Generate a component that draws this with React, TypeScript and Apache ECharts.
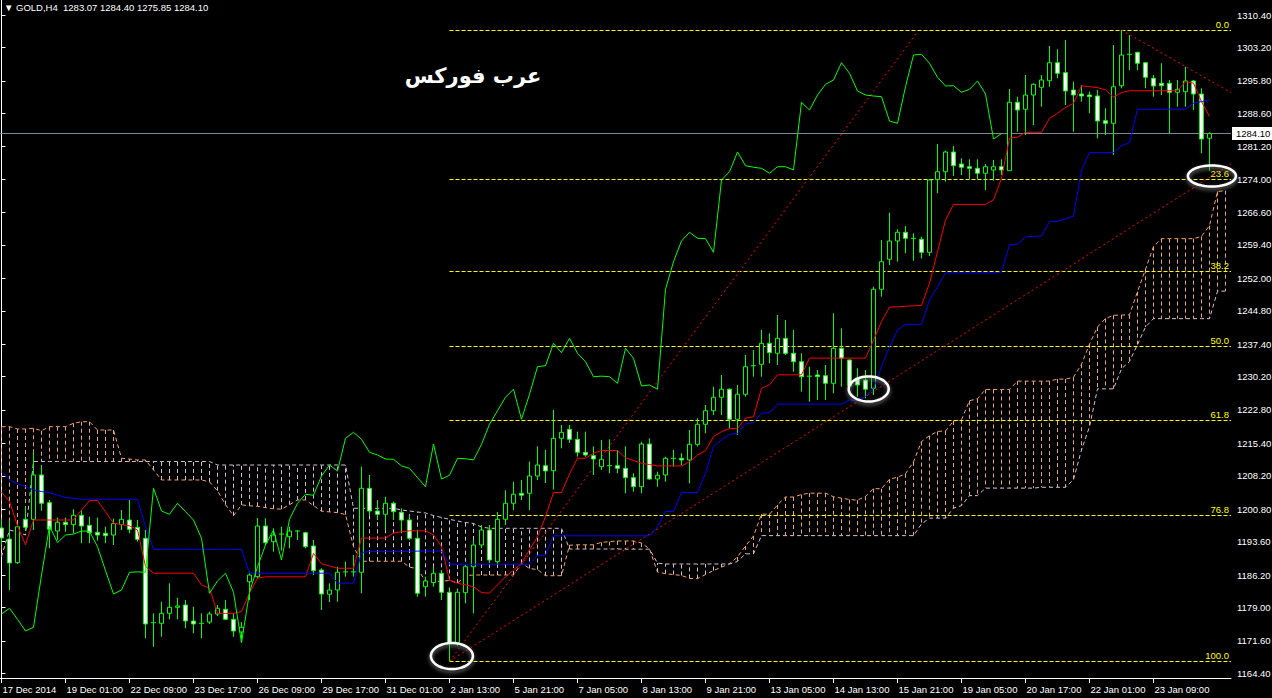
import React, { useEffect, useRef } from "react";
import * as echarts from "echarts";

// ---------- DATA ----------
const opens = [
  1196.63, 1194.19, 1188.94, 1198.56, 1198.56, 1208.39, 1202.24, 1195.96, 1197.89, 1197.38,
  1199.45, 1197.23, 1195.67, 1195.45, 1195.07, 1197.38, 1198.40, 1196.79, 1194.35, 1175.49,
  1175.49, 1177.70, 1179.04, 1179.55, 1176.00, 1175.34, 1175.77, 1177.55, 1178.60, 1176.38,
  1173.57, 1184.71, 1185.83, 1197.07, 1193.59, 1195.07, 1194.70, 1195.96, 1195.58, 1192.64,
  1187.31, 1181.93, 1182.88, 1186.81, 1186.90, 1186.81, 1205.43, 1200.40, 1199.67, 1202.11,
  1200.11, 1198.40, 1194.35, 1183.62, 1184.52, 1186.58, 1182.37, 1171.19, 1182.28, 1188.05,
  1192.86, 1196.18, 1189.16, 1198.56, 1202.11, 1204.33, 1204.33, 1208.16, 1210.45, 1209.35,
  1216.52, 1218.52, 1216.30, 1213.42, 1212.67, 1210.23, 1210.45, 1210.45, 1209.87, 1207.79,
  1205.79, 1215.25, 1207.50, 1208.39, 1212.08, 1212.08, 1211.71, 1215.19, 1219.63, 1222.64,
  1225.62, 1227.40, 1220.74, 1226.29, 1232.40, 1232.93, 1237.59, 1235.37, 1238.70, 1235.37,
  1233.51, 1230.19, 1230.57, 1230.41, 1228.72, 1236.48, 1233.89, 1229.90, 1229.45, 1227.62,
  1249.57, 1256.22, 1260.28, 1262.21, 1260.88, 1260.66, 1257.77, 1273.96, 1275.65, 1280.02,
  1277.36, 1276.76, 1276.40, 1275.30, 1276.03, 1276.76, 1275.87, 1291.04, 1289.49, 1292.66,
  1294.37, 1295.83, 1299.82, 1297.61, 1293.77, 1292.88, 1292.66, 1292.44, 1286.96, 1286.38,
  1294.72, 1301.53, 1302.13, 1299.82, 1296.37, 1295.26, 1295.26, 1293.26, 1293.39, 1295.77,
  1292.88, 1283.07,
];
const highs = [
  1198.40, 1198.40, 1197.52, 1201.35, 1213.55, 1210.60, 1202.84, 1198.93, 1198.93, 1200.78,
  1200.62, 1199.14, 1198.93, 1196.92, 1198.71, 1200.62, 1202.84, 1198.40, 1196.18, 1177.70,
  1180.28, 1184.36, 1181.16, 1180.66, 1179.17, 1177.70, 1178.07, 1179.55, 1180.66, 1177.70,
  1175.78, 1186.93, 1198.85, 1198.78, 1196.56, 1196.92, 1196.92, 1196.18, 1195.80, 1193.97,
  1187.69, 1184.36, 1188.05, 1189.16, 1190.64, 1210.23, 1208.39, 1202.84, 1203.57, 1202.47,
  1200.99, 1199.51, 1196.18, 1185.83, 1188.05, 1187.31, 1183.47, 1183.20, 1188.42, 1193.97,
  1197.29, 1197.29, 1200.18, 1204.99, 1206.89, 1207.28, 1211.34, 1214.72, 1213.93, 1222.80,
  1219.48, 1219.48, 1217.99, 1217.99, 1214.72, 1216.15, 1216.30, 1213.93, 1214.72, 1208.77,
  1215.76, 1216.52, 1209.12, 1212.45, 1213.93, 1213.20, 1218.37, 1220.96, 1223.91, 1227.97,
  1230.57, 1227.62, 1228.35, 1235.00, 1236.11, 1240.54, 1239.81, 1243.87, 1242.76, 1240.54,
  1235.37, 1232.40, 1231.67, 1232.78, 1244.24, 1240.92, 1234.00, 1232.05, 1231.67, 1250.15,
  1260.50, 1266.56, 1262.88, 1263.61, 1261.99, 1261.23, 1274.00, 1281.79, 1280.31, 1281.35,
  1278.62, 1278.40, 1278.40, 1277.36, 1278.25, 1278.40, 1293.99, 1292.28, 1297.10, 1295.26,
  1297.10, 1303.53, 1302.80, 1304.86, 1295.61, 1294.88, 1293.40, 1293.77, 1289.71, 1303.75,
  1307.07, 1305.97, 1302.26, 1299.90, 1297.10, 1299.69, 1295.99, 1295.99, 1298.94, 1295.99,
  1294.15, 1284.40,
];
const lows = [
  1192.86, 1182.88, 1188.65, 1196.18, 1196.18, 1200.47, 1192.13, 1193.97, 1195.80, 1195.45,
  1193.24, 1193.24, 1193.82, 1193.24, 1192.86, 1196.18, 1195.45, 1193.59, 1172.17, 1170.30,
  1172.52, 1176.37, 1176.37, 1174.38, 1173.28, 1172.17, 1175.34, 1177.11, 1176.20, 1172.52,
  1171.41, 1180.66, 1185.54, 1192.86, 1191.38, 1191.64, 1192.13, 1193.97, 1192.13, 1186.19,
  1178.43, 1180.21, 1180.28, 1185.83, 1185.83, 1182.15, 1199.51, 1198.40, 1196.18, 1198.40,
  1195.80, 1193.97, 1181.40, 1181.40, 1183.62, 1180.66, 1167.07, 1170.50, 1179.93, 1177.70,
  1192.13, 1188.87, 1188.42, 1197.29, 1200.62, 1202.84, 1200.62, 1207.28, 1206.61, 1205.17,
  1214.31, 1215.48, 1212.45, 1212.45, 1208.39, 1209.50, 1208.77, 1208.77, 1204.33, 1204.69,
  1204.33, 1207.28, 1205.79, 1206.89, 1210.23, 1210.60, 1206.54, 1214.72, 1217.63, 1221.69,
  1221.69, 1218.74, 1217.26, 1225.75, 1230.19, 1230.19, 1233.16, 1232.78, 1235.00, 1231.29,
  1226.86, 1224.64, 1225.02, 1225.02, 1226.51, 1227.97, 1227.23, 1225.75, 1225.40, 1226.13,
  1247.93, 1254.96, 1255.69, 1257.55, 1255.91, 1256.44, 1256.96, 1270.86, 1273.43, 1274.70,
  1274.92, 1273.97, 1273.97, 1271.59, 1273.65, 1274.92, 1275.80, 1284.52, 1283.79, 1286.01,
  1290.07, 1294.50, 1296.37, 1290.44, 1284.52, 1291.17, 1288.60, 1283.06, 1283.79, 1279.35,
  1294.15, 1298.20, 1298.20, 1294.15, 1292.28, 1292.66, 1284.17, 1290.07, 1290.07, 1289.33,
  1279.73, 1275.85,
];
const closes = [
  1194.41, 1188.87, 1196.92, 1196.79, 1208.39, 1202.11, 1196.34, 1197.89, 1197.38, 1199.45,
  1197.07, 1195.58, 1195.07, 1194.92, 1197.60, 1198.56, 1196.34, 1194.12, 1175.34, 1175.62,
  1177.70, 1179.04, 1179.33, 1176.00, 1175.34, 1175.49, 1177.55, 1178.82, 1176.38, 1173.79,
  1174.61, 1186.19, 1197.07, 1193.38, 1195.07, 1195.29, 1195.96, 1195.90, 1192.49, 1187.16,
  1181.99, 1182.88, 1186.81, 1186.90, 1186.81, 1205.43, 1200.40, 1199.67, 1202.11, 1200.25,
  1198.40, 1194.35, 1182.15, 1184.88, 1186.58, 1182.37, 1171.19, 1182.37, 1188.05, 1192.86,
  1196.18, 1189.53, 1198.56, 1202.11, 1204.11, 1203.89, 1208.16, 1210.60, 1209.27, 1216.52,
  1217.85, 1216.30, 1213.42, 1212.82, 1211.93, 1211.86, 1210.40, 1209.87, 1207.79, 1205.79,
  1215.25, 1207.50, 1208.32, 1212.08, 1212.00, 1211.71, 1215.19, 1219.63, 1222.64, 1225.62,
  1227.40, 1220.74, 1226.29, 1232.40, 1232.62, 1237.59, 1235.51, 1238.70, 1235.37, 1233.51,
  1230.19, 1230.30, 1230.19, 1228.72, 1236.48, 1234.26, 1228.12, 1228.35, 1227.40, 1249.57,
  1255.69, 1260.28, 1262.21, 1260.88, 1260.80, 1257.77, 1273.81, 1275.65, 1280.02, 1276.98,
  1276.63, 1276.40, 1275.30, 1276.76, 1276.76, 1276.03, 1291.04, 1289.33, 1292.66, 1295.03,
  1295.99, 1299.82, 1297.47, 1293.55, 1292.66, 1292.44, 1292.28, 1286.89, 1286.38, 1294.50,
  1301.53, 1301.69, 1299.69, 1296.59, 1294.66, 1294.72, 1293.26, 1293.92, 1295.77, 1292.88,
  1282.90, 1284.10,
];
const tenkan = [
  1204.6, 1202.5, 1197.1, 1192.9, 1198.4, 1198.4, 1198.4, 1198.4, 1198.4, 1198.4,
  1200.6, 1202.7, 1202.7, 1200.2, 1197.7, 1197.4, 1197.1, 1196.2, 1188.1, 1186.6,
  1186.6, 1186.6, 1186.6, 1186.6, 1186.6, 1184.0, 1183.3, 1177.7, 1177.7, 1177.7,
  1178.1, 1182.2, 1185.5, 1185.8, 1185.8, 1185.8, 1185.8, 1185.8, 1185.8, 1191.0,
  1188.7, 1188.2, 1187.7, 1187.7, 1187.7, 1194.4, 1194.4, 1194.4, 1194.4, 1195.5,
  1195.8, 1196.0, 1196.0, 1196.0, 1195.1, 1192.5, 1185.1, 1184.4, 1184.0, 1183.6,
  1182.3, 1182.2, 1184.0, 1185.8, 1187.3, 1188.8, 1191.8, 1194.7, 1199.1, 1204.5,
  1204.5, 1208.6, 1212.1, 1212.1, 1213.2, 1213.8, 1213.8, 1213.8, 1212.2, 1211.6,
  1211.0, 1210.7, 1210.4, 1210.4, 1210.4, 1210.4, 1211.3, 1212.8, 1213.8, 1216.9,
  1218.0, 1218.7, 1218.7, 1221.0, 1221.3, 1227.6, 1228.4, 1230.6, 1230.6, 1230.6,
  1230.6, 1234.3, 1234.3, 1234.3, 1234.3, 1234.3, 1234.3, 1234.3, 1234.3, 1238.3,
  1242.4, 1245.6, 1245.7, 1245.8, 1245.9, 1246.0, 1250.9, 1257.9, 1264.9, 1268.4,
  1268.4, 1268.4, 1268.4, 1268.4, 1269.4, 1274.2, 1283.1, 1283.3, 1284.4, 1284.4,
  1284.4, 1287.5, 1288.6, 1289.9, 1290.8, 1294.7, 1294.5, 1294.3, 1293.8, 1292.2,
  1293.2, 1293.6, 1293.6, 1293.6, 1293.6, 1293.6, 1293.6, 1293.6, 1295.6, 1295.3,
  1291.2, 1287.9,
];
const kijun = [
  1209.1, 1207.3, 1206.5, 1205.8, 1205.1, 1204.7, 1204.5, 1203.9, 1203.4, 1203.2,
  1203.0, 1203.0, 1203.0, 1203.0, 1203.0, 1203.0, 1203.0, 1203.0, 1196.9, 1191.9,
  1191.9, 1191.9, 1191.9, 1191.9, 1191.9, 1191.9, 1191.9, 1191.9, 1191.9, 1191.9,
  1191.9, 1186.6, 1186.6, 1186.6, 1186.6, 1186.6, 1186.6, 1186.6, 1186.6, 1186.6,
  1186.6, 1186.6, 1184.4, 1184.4, 1184.4, 1191.2, 1191.4, 1191.4, 1191.4, 1191.4,
  1191.4, 1191.5, 1191.5, 1191.5, 1191.5, 1191.5, 1188.6, 1188.6, 1188.6, 1188.6,
  1188.6, 1188.6, 1188.6, 1188.6, 1188.6, 1188.6, 1188.6, 1190.6, 1190.6, 1194.9,
  1194.9, 1194.9, 1194.9, 1194.9, 1194.9, 1194.9, 1194.9, 1194.9, 1194.9, 1194.9,
  1194.9, 1194.9, 1196.9, 1200.3, 1200.3, 1204.5, 1204.5, 1204.5, 1208.8, 1214.7,
  1216.2, 1217.4, 1217.6, 1219.7, 1220.0, 1222.1, 1222.2, 1224.1, 1224.1, 1224.1,
  1224.1, 1224.1, 1224.1, 1224.1, 1224.1, 1224.1, 1225.0, 1225.0, 1225.8, 1227.6,
  1232.4, 1236.8, 1240.5, 1241.8, 1241.8, 1241.8, 1247.2, 1250.1, 1253.2, 1253.2,
  1253.2, 1253.2, 1253.2, 1253.2, 1253.2, 1253.4, 1259.4, 1259.6, 1261.2, 1261.3,
  1261.4, 1264.6, 1264.6, 1265.2, 1265.8, 1276.0, 1279.9, 1279.9, 1279.9, 1279.9,
  1281.4, 1282.1, 1289.5, 1289.5, 1289.5, 1289.5, 1289.5, 1289.5, 1289.5, 1290.8,
  1291.2, 1291.6,
];
const spanA = [
  1219.10, 1219.10, 1218.59, 1218.59, 1218.74, 1218.21, 1219.10, 1219.10, 1219.10, 1219.85,
  1220.20, 1220.20, 1218.36, 1218.36, 1218.36, 1212.09, 1211.93, 1211.71, 1211.71, 1209.50,
  1207.28, 1207.28, 1207.28, 1207.28, 1207.28, 1207.28, 1206.85, 1204.90, 1201.80, 1199.35,
  1201.75, 1201.55, 1201.45, 1201.15, 1200.90, 1200.80, 1201.80, 1202.85, 1202.85, 1201.60,
  1200.35, 1200.20, 1200.05, 1199.60, 1192.50, 1189.25, 1189.25, 1189.25, 1189.25, 1189.25,
  1189.25, 1187.95, 1187.60, 1184.80, 1184.80, 1184.80, 1185.00, 1184.40, 1186.05, 1186.20,
  1186.20, 1186.20, 1186.20, 1186.20, 1186.20, 1188.80, 1187.65, 1187.40, 1186.05, 1186.05,
  1186.05, 1192.80, 1192.90, 1192.90, 1192.90, 1193.45, 1193.60, 1193.75, 1193.75, 1193.75,
  1193.30, 1192.00, 1186.85, 1186.50, 1186.30, 1186.10, 1185.45, 1185.40, 1186.30, 1187.20,
  1187.95, 1188.70, 1190.20, 1192.65, 1194.85, 1199.70, 1199.70, 1201.75, 1203.50, 1203.50,
  1204.05, 1204.35, 1204.35, 1204.35, 1203.55, 1203.25, 1202.95, 1202.80, 1203.65, 1205.35,
  1205.35, 1207.45, 1207.90, 1208.65, 1211.30, 1215.80, 1217.10, 1218.05, 1218.15, 1220.35,
  1220.65, 1224.85, 1225.30, 1227.35, 1227.35, 1227.35, 1227.35, 1229.20, 1229.20, 1229.20,
  1229.20, 1229.20, 1229.65, 1229.65, 1230.05, 1232.95, 1237.40, 1241.20, 1243.10, 1243.80,
  1243.85, 1243.90, 1249.05, 1254.00, 1259.05, 1260.80, 1260.80, 1260.80, 1260.80, 1260.80,
  1261.30, 1263.70, 1271.25, 1271.45,
];
const spanB = [
  1190.27, 1196.18, 1195.74, 1195.07, 1211.38, 1211.38, 1211.38, 1211.38, 1211.38, 1211.38,
  1211.38, 1211.38, 1211.38, 1211.38, 1211.38, 1211.38, 1211.38, 1211.38, 1211.38, 1211.38,
  1211.38, 1211.38, 1211.38, 1211.38, 1211.38, 1211.38, 1211.38, 1210.60, 1210.60, 1210.60,
  1210.60, 1210.60, 1210.60, 1210.60, 1210.60, 1210.60, 1210.60, 1210.60, 1210.60, 1210.60,
  1210.60, 1210.60, 1210.60, 1210.60, 1201.00, 1201.00, 1201.00, 1201.00, 1201.00, 1201.00,
  1200.62, 1200.40, 1200.18, 1199.96, 1199.40, 1198.96, 1198.56, 1198.18, 1197.85, 1197.63,
  1196.85, 1196.56, 1196.56, 1196.56, 1196.56, 1196.56, 1196.56, 1196.56, 1196.56, 1196.56,
  1196.56, 1191.97, 1191.97, 1191.97, 1191.97, 1191.97, 1191.97, 1191.97, 1191.93, 1191.93,
  1191.93, 1191.93, 1188.84, 1188.65, 1188.65, 1188.65, 1188.65, 1188.65, 1188.65, 1188.65,
  1188.65, 1188.65, 1189.20, 1190.90, 1190.90, 1194.94, 1194.94, 1194.94, 1194.94, 1194.94,
  1194.94, 1194.94, 1194.94, 1194.94, 1194.94, 1194.94, 1194.94, 1194.94, 1194.94, 1194.94,
  1194.94, 1194.94, 1194.94, 1194.94, 1194.94, 1197.52, 1198.82, 1198.82, 1198.82, 1201.04,
  1201.59, 1203.81, 1203.81, 1205.47, 1205.47, 1205.47, 1205.47, 1205.47, 1205.47, 1205.47,
  1205.66, 1205.66, 1205.66, 1205.66, 1207.37, 1213.93, 1219.10, 1227.49, 1227.49, 1227.49,
  1231.93, 1233.59, 1237.31, 1241.20, 1243.06, 1243.06, 1243.06, 1243.06, 1243.06, 1243.06,
  1243.06, 1243.06, 1249.16, 1249.16,
];
const chikouShift = 26;

const timeLabels = [
  "17 Dec 2014", "19 Dec 01:00", "22 Dec 09:00", "23 Dec 17:00", "26 Dec 09:00",
  "29 Dec 17:00", "31 Dec 01:00", "2 Jan 13:00", "5 Jan 21:00", "7 Jan 05:00",
  "8 Jan 13:00", "9 Jan 21:00", "13 Jan 05:00", "14 Jan 13:00", "15 Jan 21:00",
  "19 Jan 05:00", "20 Jan 17:00", "22 Jan 01:00", "23 Jan 09:00",
];
const labelBars = [0, 8, 16, 24, 32, 40, 48, 56, 64, 72, 80, 88, 96, 104, 112, 120, 128, 136, 144];
const priceTicks = [
  1310.4, 1303.2, 1295.8, 1288.6, 1281.2, 1274.0, 1266.6, 1259.4, 1252.0, 1244.8, 1237.4,
  1230.2, 1222.8, 1215.4, 1208.2, 1200.8, 1193.6, 1186.2, 1179.0, 1171.6, 1164.4,
];

const fibLevels = [0, 23.6, 38.2, 50, 61.8, 76.8, 100];
const fibHighPrice = 1307.07;
const fibLowPrice = 1167.07;
const fibStartBar = 56;

const trendLines = [
  [[56, 1167.07], [114.4, 1306.4]],
  [[56, 1167.07], [153.6875, 1277.4]],
  [[140, 1307.07], [153.6875, 1293.2]],
];
const circleMarks = [[56.3, 1168.24], [108.4, 1227.46], [151.3, 1274.7]];
const lastPrice = 1284.1;
const headerText = "\u25BC GOLD,H4  1283.07 1284.40 1275.85 1284.10";
const brandText = "عرب فوركس";

// ---------- STYLE ----------
const BAR_MIN = -0.1875;
const BAR_MAX = 153.6875;
const PRICE_MIN = 1163.36;
const PRICE_MAX = 1313.73;
const circleSizes = [[21, 13], [20, 12.5], [24, 10.5]];
const FONT = "'Liberation Sans', Arial, sans-serif";
const FS = 9.5;
const LIME = "#00ff00";
const SANDY = "#f4a460";
const THISTLE = "#d8bfd8";

export default function App() {
  const ref = useRef<HTMLDivElement>(null);

  useEffect(() => {
    const chart = echarts.init(ref.current as HTMLDivElement, null, { renderer: "svg" });

    const bars = opens.map((o, k) => [k, o, highs[k], lows[k], closes[k]]);
    const cloud = spanA.map((a, k) => [k, a, spanB[k]]);
    const chikou = closes.slice(chikouShift).map((c, j) => [j, c]);
    const fibData = fibLevels.map((l) => [
      fibStartBar,
      fibHighPrice - (fibHighPrice - fibLowPrice) * (l / 100),
      l,
    ]);

    const option: any = {
      animation: false,
      backgroundColor: "#000",
      grid: { left: 0, top: 0, width: 1231, height: 678, outerBoundsMode: "none", containLabel: false },
      xAxis: {
        type: "value",
        min: BAR_MIN,
        max: BAR_MAX,
        axisLine: { show: true, lineStyle: { color: "#fff", width: 1 } },
        axisTick: { show: true, customValues: labelBars, length: 5, lineStyle: { color: "#fff" } },
        axisLabel: {
          customValues: labelBars,
          formatter: (v: number) => timeLabels[labelBars.indexOf(Math.round(v))] || "",
          color: "#fff",
          fontFamily: FONT,
          fontSize: FS,
          align: "left",
          margin: 6,
          padding: [0, 0, 0, 1],
        },
        splitLine: { show: false },
      },
      yAxis: {
        type: "value",
        position: "right",
        min: PRICE_MIN,
        max: PRICE_MAX,
        axisLine: { show: true, lineStyle: { color: "#fff", width: 1 } },
        axisTick: { show: true, customValues: priceTicks, length: 4, lineStyle: { color: "#fff" } },
        axisLabel: {
          customValues: priceTicks,
          formatter: (v: number) => v.toFixed(2),
          color: "#fff",
          fontFamily: FONT,
          fontSize: FS,
          margin: 6,
        },
        splitLine: { show: false },
      },
      graphic: [
        {
          type: "text",
          left: 4,
          top: 2,
          style: { text: headerText, fill: "#fff", font: `${FS}px ${FONT}` },
          z: 20,
        },
        {
          type: "text",
          x: 473,
          y: 76,
          style: {
            text: brandText,
            fill: "#fff",
            font: "bold 21px 'DejaVu Sans', sans-serif",
            align: "center",
            verticalAlign: "middle",
            shadowColor: "rgba(150,150,150,0.9)",
            shadowBlur: 4,
            shadowOffsetY: 2,
          },
          z: 20,
        },
      ],
      series: [
        {
          type: "custom",
          name: "cloud",
          z: 1,
          data: cloud,
          encode: { x: 0, y: [1, 2] },
          renderItem: (params: any, api: any) => {
            const k = api.value(0);
            const a = api.value(1);
            const b = api.value(2);
            const pa = api.coord([k, a]);
            const pb = api.coord([k, b]);
            return {
              type: "line",
              shape: { x1: pa[0], y1: pa[1], x2: pb[0], y2: pb[1] },
              style: { stroke: a >= b ? SANDY : THISTLE, lineWidth: 1, lineDash: [4, 3] },
            };
          },
        },
        {
          type: "line",
          name: "spanA",
          z: 2,
          data: spanA.map((v, k) => [k, v]),
          showSymbol: false,
          lineStyle: { color: SANDY, width: 1, type: [4, 3] },
        },
        {
          type: "line",
          name: "spanB",
          z: 2,
          data: spanB.map((v, k) => [k, v]),
          showSymbol: false,
          lineStyle: { color: THISTLE, width: 1, type: [4, 3] },
        },
        {
          type: "custom",
          name: "fib",
          z: 3,
          data: fibData,
          encode: { x: 0, y: 1 },
          renderItem: (params: any, api: any) => {
            const p = api.coord([api.value(0), api.value(1)]);
            const cs = params.coordSys;
            const xEnd = cs.x + cs.width;
            const y = Math.round(p[1]) + 0.5;
            return {
              type: "group",
              children: [
                {
                  type: "line",
                  shape: { x1: p[0], y1: y, x2: xEnd, y2: y },
                  style: { stroke: "#ffff00", lineWidth: 1, lineDash: [4, 2] },
                },
                {
                  type: "text",
                  x: xEnd - 2,
                  y: y - 1,
                  style: {
                    text: api.value(2).toFixed(1),
                    fill: "#ffff00",
                    font: `${FS}px ${FONT}`,
                    align: "right",
                    verticalAlign: "bottom",
                  },
                },
              ],
            };
          },
        },
        ...trendLines.map((seg) => ({
          type: "line",
          z: 4,
          data: seg,
          showSymbol: false,
          lineStyle: { color: "#ff0000", width: 1, type: [2, 3] },
        })),
        {
          type: "line",
          name: "bid",
          z: 4,
          data: [],
          markLine: {
            silent: true,
            symbol: "none",
            data: [{ yAxis: lastPrice }],
            lineStyle: { color: "#778899", type: "solid", width: 1 },
            label: {
              show: true,
              position: "end",
              distance: 1,
              formatter: lastPrice.toFixed(2),
              color: "#000",
              backgroundColor: "#fff",
              padding: [2, 4, 1, 4],
              fontFamily: FONT,
              fontSize: FS,
            },
          },
        },
        {
          type: "custom",
          name: "candles",
          z: 5,
          data: bars,
          encode: { x: 0, y: [1, 2, 3, 4] },
          renderItem: (params: any, api: any) => {
            const k = api.value(0);
            const o = api.value(1);
            const h = api.value(2);
            const l = api.value(3);
            const c = api.value(4);
            const pO = api.coord([k, o]);
            const pC = api.coord([k, c]);
            const pH = api.coord([k, h]);
            const pL = api.coord([k, l]);
            const x = pO[0];
            const top = Math.min(pO[1], pC[1]);
            const bot = Math.max(pO[1], pC[1]);
            const children: any[] = [
              {
                type: "line",
                shape: { x1: x, y1: pH[1], x2: x, y2: pL[1] },
                style: { stroke: LIME, lineWidth: 1 },
              },
            ];
            if (bot - top < 1.2) {
              children.push({
                type: "line",
                shape: { x1: x - 2.5, y1: top, x2: x + 2.5, y2: top },
                style: { stroke: LIME, lineWidth: 1 },
              });
            } else {
              children.push({
                type: "rect",
                shape: { x: x - 2, y: top, width: 4, height: bot - top },
                style: { fill: c < o ? "#ffffff" : "#000000", stroke: LIME, lineWidth: 1 },
              });
            }
            return { type: "group", children };
          },
        },
        {
          type: "line",
          name: "tenkan",
          z: 6,
          data: tenkan.map((v, k) => [k, v]),
          showSymbol: false,
          lineStyle: { color: "#ff0000", width: 1 },
        },
        {
          type: "line",
          name: "kijun",
          z: 6,
          data: kijun.map((v, k) => [k, v]),
          showSymbol: false,
          lineStyle: { color: "#0000ff", width: 1 },
        },
        {
          type: "line",
          name: "chikou",
          z: 6,
          data: chikou,
          showSymbol: false,
          lineStyle: { color: LIME, width: 1 },
        },
        {
          type: "custom",
          name: "circles",
          z: 8,
          clip: false,
          data: circleMarks,
          encode: { x: 0, y: 1 },
          renderItem: (params: any, api: any) => {
            const p = api.coord([api.value(0), api.value(1)]);
            const sz = circleSizes[params.dataIndex];
            const pts: number[][] = [];
            for (let i = 0; i < 60; i++) {
              const t = (i / 60) * Math.PI * 2;
              pts.push([p[0] + sz[0] * Math.cos(t), p[1] + sz[1] * Math.sin(t)]);
            }
            return {
              type: "polygon",
              shape: { points: pts },
              style: {
                fill: "none",
                stroke: "#ffffff",
                lineWidth: 2.5,
                shadowColor: "rgba(140,140,140,0.9)",
                shadowBlur: 4,
                shadowOffsetY: 2,
              },
            };
          },
        },
      ],
    };

    chart.setOption(option);
    return () => chart.dispose();
  }, []);

  return (
    <div
      ref={ref}
      style={{ position: "absolute", left: 0, top: 0, width: 1272, height: 698, background: "#000" }}
    />
  );
}
